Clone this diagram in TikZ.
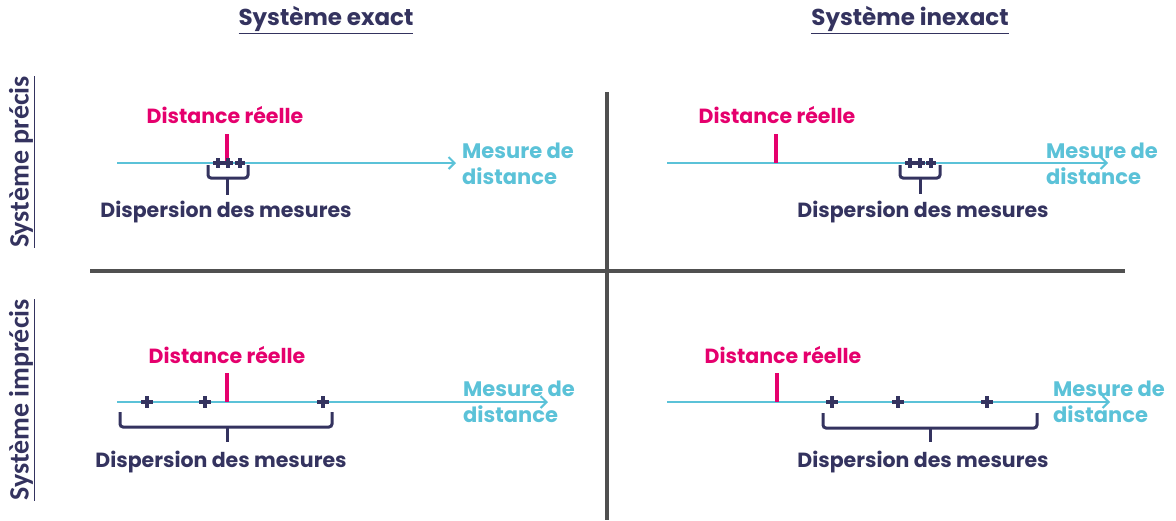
\documentclass[tikz,border=0pt]{standalone}
\usepackage{fontspec}
\setmainfont{Poppins}
\newfontfamily\sidefont{Carlito}[BoldFont={Carlito Bold}]
\usetikzlibrary{arrows.meta}
\definecolor{navy}{HTML}{34335F}
\definecolor{magent}{HTML}{E5006D}
\definecolor{cyanax}{HTML}{5BC2D8}
\definecolor{gridg}{HTML}{505050}
\tikzset{
  title/.style={inner sep=0pt, text=navy, font=\bfseries\fontsize{23}{25}\selectfont},
  side/.style={inner sep=0pt, text=navy, rotate=90, font=\sidefont\bfseries\fontsize{28}{30}\selectfont},
  reel/.style={inner sep=0pt, text=magent, font=\bfseries\fontsize{20.5}{22}\selectfont},
  disp/.style={inner sep=0pt, text=navy, font=\bfseries\fontsize{20.5}{22}\selectfont},
  axlabel/.style={inner sep=0pt, text=cyanax, anchor=west, align=left, font=\bfseries\fontsize{21}{26}\selectfont},
  axis/.style={draw=cyanax, line width=2pt, -{Straight Barb[length=6pt,width=12pt,line width=2pt]}},
  tick/.style={draw=magent, line width=3.2pt},
  bracket/.style={draw=navy, line width=3pt, rounded corners=3pt},
  gridline/.style={draw=gridg, line width=3.2pt},
  plusmark/.style={draw=navy, line width=3.4pt},
}
\newcommand{\plusat}[3]{% x, y, half-size
  \draw[plusmark] (#1-#3,#2) -- (#1+#3,#2) (#1,#2-#3) -- (#1,#2+#3);}
\begin{document}
\begin{tikzpicture}[x=1pt,y=-1pt]
\useasboundingbox (0,0) rectangle (1176,520);
% titles
\node[title] (t1) at (326,20) {\underline{Système exact}};
\node[title] (t2) at (910,20) {\underline{Système inexact}};
\node[side] (s1) at (22,162) {\underline{Système précis}};
\node[side] (s2) at (22,400) {\underline{Système imprécis}};
% grid
\coordinate (gl) at (90,271); \coordinate (gr) at (1125,271);
\coordinate (gt) at (607,92); \coordinate (gb) at (607,520);
\draw[gridline] (gl) -- (gr);
\draw[gridline] (gt) -- (gb);

% ---- Q1
\coordinate (a1s) at (117,163); \coordinate (a1e) at (456,163);
\draw[axis] (a1s) -- (a1e);
\node[axlabel] (m1) at (462,164) {Mesure de\\distance};
\coordinate (r1t) at (227,134); \coordinate (r1b) at (227,163);
\draw[tick] (r1t) -- (r1b);
\node[reel] (d1) at (225,115) {Distance réelle};
\plusat{218}{163}{5}\plusat{228}{163}{5}\plusat{240}{163}{5}
\coordinate (b1l) at (208,165); \coordinate (b1r) at (248,165);
\coordinate (b1m) at (227,178); \coordinate (b1p) at (227,195);
\draw[bracket] (b1l) |- (b1m) -| (b1r);
\draw[bracket] (b1m) -- (b1p);
\node[disp] (p1) at (226,212) {Dispersion des mesures};

% ---- Q2
\coordinate (a2s) at (667,163); \coordinate (a2e) at (1108,163);
\draw[axis] (a2s) -- (a2e);
\node[axlabel] (m2) at (1046,164) {Mesure de\\distance};
\coordinate (r2t) at (776,134); \coordinate (r2b) at (776,163);
\draw[tick] (r2t) -- (r2b);
\node[reel] (d2) at (777,115) {Distance réelle};
\plusat{910}{163}{5}\plusat{920}{163}{5}\plusat{931}{163}{5}
\coordinate (b2l) at (900,165); \coordinate (b2r) at (940,165);
\coordinate (b2m) at (920,178); \coordinate (b2p) at (920,194);
\draw[bracket] (b2l) |- (b2m) -| (b2r);
\draw[bracket] (b2m) -- (b2p);
\node[disp] (p2) at (923,212) {Dispersion des mesures};

% ---- Q3
\coordinate (a3s) at (117,402); \coordinate (a3e) at (548,402);
\draw[axis] (a3s) -- (a3e);
\node[axlabel] (m3) at (463,402) {Mesure de\\distance};
\coordinate (r3t) at (227,373); \coordinate (r3b) at (227,402);
\draw[tick] (r3t) -- (r3b);
\node[reel] (d3) at (227,355) {Distance réelle};
\plusat{147}{402}{6}\plusat{205}{402}{6}\plusat{323}{402}{6}
\coordinate (b3l) at (120,412); \coordinate (b3r) at (332,412);
\coordinate (b3m) at (227,427); \coordinate (b3p) at (227,442);
\draw[bracket] (b3l) |- (b3m) -| (b3r);
\draw[bracket] (b3m) -- (b3p);
\node[disp] (p3) at (221,462) {Dispersion des mesures};

% ---- Q4
\coordinate (a4s) at (667,402); \coordinate (a4e) at (1110,402);
\draw[axis] (a4s) -- (a4e);
\node[axlabel] (m4) at (1053,402) {Mesure de\\distance};
\coordinate (r4t) at (777,373); \coordinate (r4b) at (777,402);
\draw[tick] (r4t) -- (r4b);
\node[reel] (d4) at (783,355) {Distance réelle};
\plusat{832}{402}{6}\plusat{898}{402}{6}\plusat{987}{402}{6}
\coordinate (b4l) at (823,413); \coordinate (b4r) at (1037,413);
\coordinate (b4m) at (930,428); \coordinate (b4p) at (930,442);
\draw[bracket] (b4l) |- (b4m) -| (b4r);
\draw[bracket] (b4m) -- (b4p);
\node[disp] (p4) at (923,462) {Dispersion des mesures};
\end{tikzpicture}
\end{document}
